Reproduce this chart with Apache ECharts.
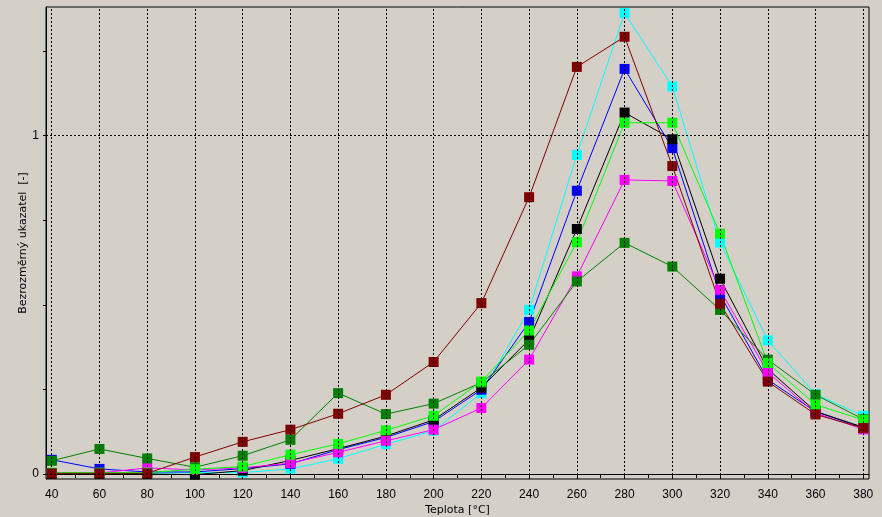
<!DOCTYPE html>
<html>
<head>
<meta charset="utf-8">
<script src="https://cdn.jsdelivr.net/npm/echarts@6/dist/echarts.min.js"></script>
<style>
html,body{margin:0;padding:0;background:#d4d0c8;}
#chart{width:882px;height:517px;}
</style>
</head>
<body>
<div id="chart"></div>
<script>
// Categories (temperature, °C)
const temps = [40, 60, 80, 100, 120, 140, 160, 180, 200, 220, 240, 260, 280, 300, 320, 340, 360, 380];

// Series values (dimensionless indicator)
const cyanVals    = [0.002, 0.002, 0.002, 0.004, 0.004, 0.015, 0.045, 0.088, 0.128, 0.239, 0.485, 0.943, 1.362, 1.145, 0.684, 0.395, 0.236, 0.172];
const blueVals    = [0.042, 0.015, 0.006, 0.006, 0.016, 0.030, 0.072, 0.108, 0.155, 0.249, 0.449, 0.837, 1.197, 0.963, 0.530, 0.279, 0.184, 0.137];
const blackVals   = [0.000, 0.000, 0.000, -0.002, 0.010, 0.040, 0.075, 0.112, 0.160, 0.255, 0.397, 0.724, 1.068, 0.989, 0.577, 0.310, 0.185, 0.138];
const magentaVals = [0.003, 0.003, 0.018, 0.012, 0.018, 0.032, 0.064, 0.098, 0.131, 0.195, 0.338, 0.584, 0.869, 0.866, 0.544, 0.300, 0.180, 0.132];
const dkGreenVals = [0.039, 0.074, 0.046, 0.020, 0.054, 0.101, 0.239, 0.177, 0.208, 0.270, 0.382, 0.569, 0.683, 0.613, 0.485, 0.338, 0.234, 0.162];
const limeVals    = [0.004, 0.004, 0.004, 0.014, 0.022, 0.057, 0.089, 0.129, 0.172, 0.273, 0.424, 0.685, 1.038, 1.038, 0.710, 0.328, 0.205, 0.160];
const maroonVals  = [0.002, 0.002, 0.002, 0.050, 0.095, 0.131, 0.178, 0.234, 0.331, 0.505, 0.818, 1.203, 1.292, 0.910, 0.503, 0.273, 0.176, 0.136];

// Tick labels / tick positions
const xLabelValues = [40, 60, 80, 100, 120, 140, 160, 180, 200, 220, 240, 260, 280, 300, 320, 340, 360, 380];
const xTickValues  = [40, 50, 60, 70, 80, 90, 100, 110, 120, 130, 140, 150, 160, 170, 180, 190, 200, 210, 220, 230, 240, 250, 260, 270, 280, 290, 300, 310, 320, 330, 340, 350, 360, 370, 380];
const yLabelValues = [0, 1];
const yTickValues  = [0, 0.25, 0.5, 0.75, 1, 1.25];
const yGridValues  = [0, 1];

const seriesDefs = [
  { name: 'cyan',    color: '#00ffff', vals: cyanVals },
  { name: 'blue',    color: '#0000ff', vals: blueVals },
  { name: 'black',   color: '#000000', vals: blackVals },
  { name: 'magenta', color: '#ff00ff', vals: magentaVals },
  { name: 'dkgreen', color: '#008000', vals: dkGreenVals },
  { name: 'lime',    color: '#00ff00', vals: limeVals },
  { name: 'maroon',  color: '#800000', vals: maroonVals }
];

const tickFont = 'Liberation Sans, Arial, sans-serif';
const nameFont = 'DejaVu Sans, sans-serif';
const gridStyle = { color: '#000', width: 1, type: [2, 2] };

const series = [{
  type: 'line',
  data: [],
  silent: true,
  markLine: {
    silent: true,
    symbol: ['none', 'none'],
    label: { show: false },
    lineStyle: gridStyle,
    emphasis: { disabled: true },
    animation: false,
    data: xLabelValues.map(v => ({ xAxis: v })).concat(yGridValues.map(v => ({ yAxis: v })))
  }
}];

seriesDefs.forEach(s => {
  series.push({
    name: s.name,
    type: 'line',
    data: temps.map((t, i) => [t, s.vals[i]]),
    symbol: 'rect',
    symbolSize: 10,
    showSymbol: true,
    lineStyle: { color: s.color, width: 1 },
    itemStyle: { color: s.color },
    emphasis: { disabled: true },
    animation: false
  });
});

const chart = echarts.init(document.getElementById('chart'), null, { renderer: 'canvas' });
chart.setOption({
  backgroundColor: '#d4d0c8',
  animation: false,
  grid: {
    left: 46, right: 13, top: 7, bottom: 38,
    outerBoundsMode: 'none',
    containLabel: false,
    show: true, borderColor: '#000', borderWidth: 1, backgroundColor: 'transparent'
  },
  xAxis: {
    type: 'value',
    min: 37.6, max: 382.4,
    name: 'Teplota [°C]',
    nameLocation: 'middle',
    nameGap: 26,
    nameMoveOverlap: false,
    nameTextStyle: { color: '#000', fontFamily: nameFont, fontSize: 11 },
    axisLine: { show: true, lineStyle: { color: '#000', width: 1 } },
    axisTick: { show: true, customValues: xTickValues, length: 4, lineStyle: { color: '#000' } },
    axisLabel: { customValues: xLabelValues, color: '#000', fontFamily: tickFont, fontSize: 12, margin: 10 },
    splitLine: { show: false }
  },
  yAxis: {
    type: 'value',
    min: -0.0148, max: 1.38,
    name: 'Bezrozměrný ukazatel  [-]',
    nameLocation: 'middle',
    nameRotate: 90,
    nameGap: 17,
    nameMoveOverlap: false,
    nameTextStyle: { color: '#000', fontFamily: nameFont, fontSize: 11 },
    axisLine: { show: true, lineStyle: { color: '#000', width: 1 } },
    axisTick: { show: true, customValues: yTickValues, length: 3, lineStyle: { color: '#000' } },
    axisLabel: { customValues: yLabelValues, color: '#000', fontFamily: tickFont, fontSize: 12, margin: 7 },
    splitLine: { show: false }
  },
  series: series
});
</script>
</body>
</html>
